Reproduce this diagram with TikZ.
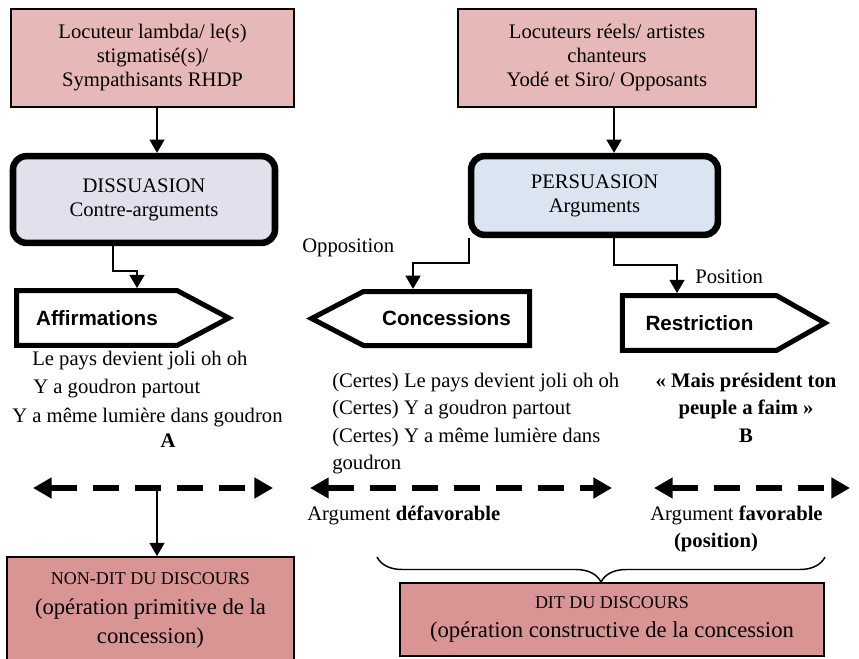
\documentclass[tikz,border=0pt]{standalone}
\usepackage{xcolor}
\usepackage{fontspec}
\setmainfont{Liberation Serif}
\newfontfamily\tagfont{Liberation Sans}
\usepackage{tikz}
\usetikzlibrary{shapes.symbols, arrows.meta, positioning, decorations.pathreplacing}

\definecolor{rosebox}{HTML}{E6B8B7}
\definecolor{rosedark}{HTML}{D99594}
\definecolor{lilac}{HTML}{E4DFEC}
\definecolor{paleblue}{HTML}{DBE5F1}

\begin{document}
\begin{tikzpicture}[
    x=0.75pt, y=-0.75pt,
    srcbox/.style={rectangle, draw, line width=1.5pt, fill=rosebox, align=center, inner sep=0pt, font=\fontsize{15.5}{18}\selectfont},
    stance/.style={rectangle, draw, line width=4.9pt, rounded corners=10pt, align=center, inner sep=0pt, font=\fontsize{15.5}{18}\selectfont},
    tag/.style={shape=signal, draw, line width=3.75pt, fill=white, inner sep=0pt, signal from=nowhere, font=\tagfont\bfseries\fontsize{15.5}{18}\selectfont},
    outcome/.style={rectangle, draw, line width=1.5pt, fill=rosedark, align=center, inner sep=0pt, font=\fontsize{17}{22}\selectfont},
    lyric/.style={inner sep=0pt, font=\fontsize{15.5}{20.5}\selectfont},
    arrow/.style={-{Triangle[length=10pt, width=11pt]}, line width=2pt},
    dasharrow/.style={{Triangle[length=14pt, width=15pt]}-{Triangle[length=14pt, width=15pt]}, line width=4.5pt, dash pattern=on 19.5pt off 12pt},
    curly/.style={decorate, decoration={brace, mirror, amplitude=18.75pt}, line width=1.1pt},
]
\useasboundingbox (0,0) rectangle (859,659);

\node[srcbox, minimum width=212pt, minimum height=73.5pt] (lambda) at (152.5,58) {Locuteur lambda/ le(s)\\stigmatisé(s)/\\Sympathisants RHDP};
\node[srcbox, minimum width=223.5pt, minimum height=73.5pt] (reels) at (607,58) {Locuteurs réels/ artistes\\chanteurs\\Yodé et Siro/ Opposants};

\node[stance, fill=lilac, minimum width=196.5pt, minimum height=65pt] (dissuasion) at (144,199.5) {DISSUASION\\Contre-arguments};
\node[stance, fill=paleblue, minimum width=185pt, minimum height=59pt] (persuasion) at (594.5,195.5) {PERSUASION\\Arguments};

\node[tag, signal to=east, signal pointer angle=56, minimum width=159pt, minimum height=41pt] (affirm) at (97,318) {Affirmations};
\node[tag, signal to=west, signal pointer angle=55, minimum width=163.5pt, minimum height=40.5pt] (conc) at (446.5,318.5) {Concessions};
\node[tag, signal to=east, signal pointer angle=59, minimum width=152pt, minimum height=41pt] (restr) at (699.5,323) {Restriction};

\node[lyric, anchor=base west] (oppo) at (302,252) {Opposition};
\node[lyric, anchor=base west] (posi) at (695,283) {Position};

\node[lyric, anchor=base west] (aff1) at (32,365) {Le pays devient joli oh oh};
\node[lyric, anchor=base west] (aff2) at (33,393) {Y a goudron partout};
\node[lyric, anchor=base west] (aff3) at (12,422) {Y a même lumière dans goudron};
\node[lyric, anchor=base] (labA) at (168,447) {\textbf{A}};

\node[lyric, anchor=north west, align=left] (conclist) at (332,373) {(Certes) Le pays devient joli oh oh\\(Certes) Y a goudron partout\\(Certes) Y a même lumière dans\\goudron};
\node[lyric, anchor=north, align=center, font=\fontsize{15.5}{20.5}\selectfont\bfseries] (restrlist) at (746,373) {«~Mais président ton\\peuple a faim~»\\B};

\coordinate (lneg) at (33,488);
\coordinate (lpos) at (273,488);
\coordinate (mneg) at (310,488);
\coordinate (mpos) at (612,488);
\coordinate (rneg) at (654,488);
\coordinate (rpos) at (850,488);

\node[lyric, anchor=base west] (argdef) at (307,520) {Argument \textbf{défavorable}};
\node[lyric, anchor=base west] (argfav) at (650,520) {Argument \textbf{favorable}};
\node[lyric, anchor=base] (argpos) at (716,547) {\textbf{(position)}};

\node[outcome, minimum width=215pt, minimum height=80pt] (nondit) at (150.5,610.5) {{\fontsize{13.5}{16}\selectfont NON-DIT DU DISCOURS}\\(opération primitive de la\\concession)};
\node[outcome, minimum width=318pt, minimum height=55pt] (dit) at (612,619.5) {{\fontsize{13.5}{16}\selectfont DIT DU DISCOURS}\\(opération constructive de la concession};
\coordinate (nd) at ([shift={(6.5,0)}]nondit.north);

\draw[arrow] ([shift={(4.5,0)}]lambda.south) -- ([shift={(4.5,0)}]lambda.south |- dissuasion.north);
\draw[arrow] ([shift={(7,0)}]reels.south) -- ([shift={(7,0)}]reels.south |- persuasion.north);
\draw[arrow] ([shift={(-31,0)}]dissuasion.south) -- ++(0,25) -| ([shift={(40,0)}]affirm.north);
\draw[arrow] ([shift={(1,0)}]persuasion.south west) -- ++(0,25) -| ([shift={(-33.5,0)}]conc.north);
\draw[arrow] ([shift={(19.5,0)}]persuasion.south) -- ++(0,27) -| ([shift={(-22.5,0)}]restr.north);

\draw[dasharrow] (lneg) -- (lpos);
\draw[dasharrow] (mneg) -- (mpos);
\draw[dasharrow] (rneg) -- (rpos);
\draw[arrow] (lneg -| nd) -- (nd);

\draw[curly] (377,557) -- (825,557);

\end{tikzpicture}
\end{document}
